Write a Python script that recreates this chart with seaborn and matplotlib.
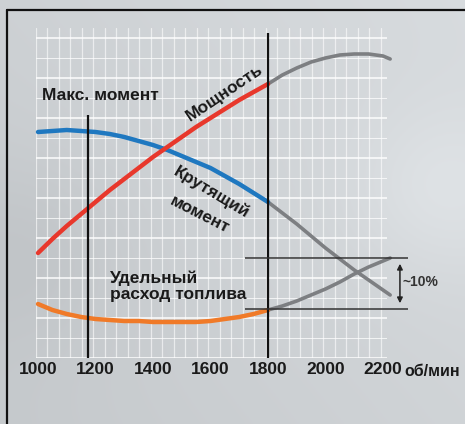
import numpy as np
import pandas as pd
import matplotlib
matplotlib.use("Agg")
import matplotlib.pyplot as plt
import seaborn as sns
from matplotlib.lines import Line2D

# engine speed, rpm (coloured part up to 1800, grey continuation after)
rpm = [1000, 1050, 1100, 1150, 1200, 1250, 1300, 1350, 1400,
       1450, 1500, 1550, 1600, 1650, 1700, 1750, 1800]
rpm_hi = [1800, 1850, 1900, 1950, 2000, 2050, 2100, 2150, 2200, 2225]

# relative values (arbitrary units)
torque = [226, 227, 228, 227, 226, 224, 221, 217, 213,
          208, 202, 196, 190, 182, 174, 165, 156]
torque_hi = [156, 145, 134, 122, 110, 99, 88, 78, 68, 63]
power = [105, 119, 132, 144, 156, 168, 179, 190, 201,
         211, 221, 231, 240, 249, 258, 266, 274]
power_hi = [274, 283, 290, 296, 300, 303, 304, 304, 302, 299]
fuel = [54, 48, 44, 41, 39, 38, 37, 37, 36,
        36, 36, 36, 37, 39, 41, 44, 48]
fuel_hi = [48, 52, 57, 63, 69, 76, 84, 91, 97, 100]

ticks = [1000, 1200, 1400, 1600, 1800, 2000, 2200]
max_torque_rpm = 1174
rated_rpm = 1800
band = [49, 100]   # the ~10% band

sns.set_style("white")
plt.rcParams["font.family"] = ["Liberation Sans", "DejaVu Sans"]

fig = plt.figure(figsize=(4.65, 4.24), dpi=100)

# grey studio background
bg = fig.add_axes([0, 0, 1, 1], zorder=-2)
yy, xx = np.mgrid[0:1:212j, 0:1:232j]
shade = 0.82 - 0.03 * yy + 0.04 * xx
shade -= 0.03 * np.exp(-((xx - 0.05) ** 2 + (yy - 0.6) ** 2) / 0.05)
shade += 0.04 * np.exp(-((xx - 0.95) ** 2 + (yy - 0.45) ** 2) / 0.04)
img = np.dstack([shade - 0.015, shade, shade + 0.012]).clip(0, 1)
bg.imshow(img, extent=[0, 1, 0, 1], aspect="auto")
bg.axis("off")

ax = fig.add_axes([36 / 465, 66 / 424, 351 / 465, 330 / 424])
ax.set_facecolor("none")
ax.set_xlim(993, 2214)
ax.set_ylim(0, 330)
for s in ax.spines.values():
    s.set_visible(False)

# white grid
for gx in np.arange(993, 2214, 40):
    ax.axvline(gx, color="white", lw=0.9, alpha=0.6, zorder=0)
for gy in range(0, 331, 20):
    ax.axhline(gy, color="white", lw=1.4 if gy % 40 == 0 else 0.7, alpha=0.75, zorder=0)

df = pd.DataFrame({"rpm": rpm, "torque": torque, "power": power, "fuel": fuel})
hi = pd.DataFrame({"rpm": rpm_hi, "torque": torque_hi, "power": power_hi, "fuel": fuel_hi})

for col, c in [("torque", "#1f78c0"), ("power", "#e8382c"), ("fuel", "#f07a28")]:
    sns.lineplot(data=df, x="rpm", y=col, color=c, lw=3.2, ax=ax, zorder=3, clip_on=False)
    sns.lineplot(data=hi, x="rpm", y=col, color="#7d7f82", lw=2.6, ax=ax, zorder=2, clip_on=False)

ax.vlines(max_torque_rpm, 0, 243, color="#111111", lw=1.6, zorder=4)
ax.vlines(rated_rpm, 0, 325, color="#111111", lw=1.6, zorder=4)
ax.hlines(band, 1720, 2287, color="#333333", lw=1.1, zorder=4, clip_on=False)
ax.annotate("", xy=(2259, band[1] - 3), xytext=(2259, band[0] + 3),
            arrowprops=dict(arrowstyle="<|-|>", color="#222222", lw=1.1, mutation_scale=8),
            annotation_clip=False)
ax.text(2268, 76, "~10%", fontsize=10, fontweight="bold", color="#333333", va="center", ha="left")

txt = dict(fontweight="bold", color="#1a1a1a", fontsize=12.5)
ax.text(1014, 262, "Макс. момент", va="center", **txt)
ax.text(1650, 265, "Мощность", rotation=34, ha="center", va="center", **txt)
ax.text(1602, 166, "Крутящий", rotation=-31, ha="center", va="center", **txt)
ax.text(1563, 143, "момент", rotation=-27, ha="center", va="center", **txt)
ax.text(1250, 72, "Удельный\nрасход топлива", va="center", ha="left", linespacing=1.05, **txt)

ax.set_xticks(ticks)
ax.set_xticklabels([str(t) for t in ticks], fontsize=12.5, fontweight="bold", color="#1a1a1a")
ax.set_yticks([])
ax.tick_params(axis="x", length=0, pad=3)
ax.set_xlabel("")
ax.set_ylabel("")
ax.text(2275, -13, "об/мин", fontsize=11.5, fontweight="bold", color="#1a1a1a", va="center", ha="left")

# picture frame (left and top edges)
fig.add_artist(Line2D([7 / 465, 7 / 465], [0, 1 - 10 / 424], color="#111111", lw=1.6))
fig.add_artist(Line2D([7 / 465, 1], [1 - 10 / 424, 1 - 10 / 424], color="#111111", lw=1.6))

fig.savefig("out.png", dpi=100)
